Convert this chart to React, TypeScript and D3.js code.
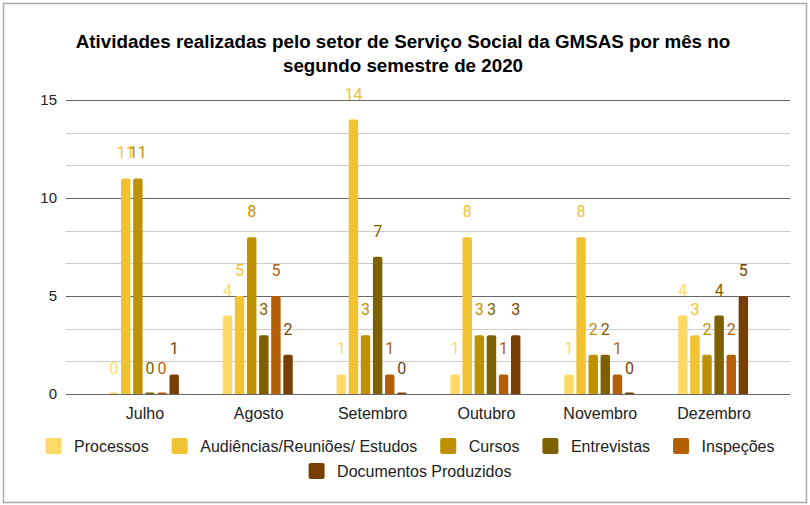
import { useEffect, useRef } from 'react'
import * as d3 from 'd3'

const WIDTH = 810
const HEIGHT = 505

const MONTHS = ['Julho', 'Agosto', 'Setembro', 'Outubro', 'Novembro', 'Dezembro']
const SERIES = [
  'Processos',
  'Audiências/Reuniões/ Estudos',
  'Cursos',
  'Entrevistas',
  'Inspeções',
  'Documentos Produzidos',
]
const COLORS = ['#ffd966', '#f1c232', '#bf9000', '#7f6000', '#b45f06', '#783f04']

const PROCESSOS = [0, 4, 1, 1, 1, 4]
const AUDIENCIAS = [11, 5, 14, 8, 8, 3]
const CURSOS = [11, 8, 3, 3, 2, 2]
const ENTREVISTAS = [0, 3, 7, 3, 2, 4]
const INSPECOES = [0, 5, 1, 1, 1, 2]
const DOCUMENTOS = [1, 2, 0, 3, 0, 5]

const VALUES = [PROCESSOS, AUDIENCIAS, CURSOS, ENTREVISTAS, INSPECOES, DOCUMENTOS]
const Y_TICKS = [0, 5, 10, 15]

const TITLE = [
  'Atividades realizadas pelo setor de Serviço Social da GMSAS por mês no',
  'segundo semestre de 2020',
]

function topRounded(x: number, y: number, w: number, h: number, r: number) {
  const rr = Math.min(r, h, w / 2)
  return `M${x},${y + h}V${y + rr}Q${x},${y} ${x + rr},${y}H${x + w - rr}Q${x + w},${y} ${x + w},${y + rr}V${y + h}Z`
}

export default function App() {
  const svgRef = useRef<SVGSVGElement>(null)

  useEffect(() => {
    document.body.style.margin = '0'
    if (!svgRef.current) return
    const svg = d3.select(svgRef.current)
    svg.selectAll('*').remove()

    const x0 = d3.scaleBand<string>().domain(MONTHS).range([87, 770]).paddingInner(0.385).paddingOuter(0.1925)
    const x1 = d3.scaleBand<string>().domain(SERIES).range([0, x0.bandwidth()]).paddingInner(0.22)
    const y = d3.scaleLinear().domain([0, 15]).range([394, 100])

    svg.append('rect')
      .attr('width', WIDTH).attr('height', HEIGHT).attr('fill', '#fff')
    svg.append('rect')
      .attr('x', 3.5).attr('y', 3.5).attr('width', 803).attr('height', 499)
      .attr('fill', 'none').attr('stroke', '#aaa').attr('stroke-width', 1.5)

    // title
    svg.append('text')
      .attr('text-anchor', 'middle')
      .attr('font-family', 'Liberation Sans, Arial, sans-serif')
      .attr('font-weight', 'bold').attr('font-size', 18.8).attr('fill', '#000')
      .selectAll('tspan').data(TITLE).enter().append('tspan')
      .attr('x', 403).attr('y', (_, i) => 48 + i * 24)
      .text(d => d)

    // gridlines
    const minor = d3.range(0, 15.01, 5 / 3).filter(v => Math.abs(v % 5) > 0.01 && Math.abs((v % 5) - 5) > 0.01)
    svg.append('g').selectAll('line').data(minor).enter().append('line')
      .attr('x1', 66).attr('x2', 790)
      .attr('y1', d => Math.round(y(d)) + 0.5).attr('y2', d => Math.round(y(d)) + 0.5)
      .attr('stroke', '#ccc').attr('stroke-width', 1)
    svg.append('g').selectAll('line').data(Y_TICKS).enter().append('line')
      .attr('x1', 66).attr('x2', 790)
      .attr('y1', d => Math.round(y(d)) + 0.5).attr('y2', d => Math.round(y(d)) + 0.5)
      .attr('stroke', '#666').attr('stroke-width', 1)

    // y labels
    svg.append('g').selectAll('text').data(Y_TICKS).enter().append('text')
      .attr('x', 57).attr('y', d => y(d)).attr('dy', '0.35em')
      .attr('text-anchor', 'end')
      .attr('font-family', 'Liberation Sans, Arial, sans-serif')
      .attr('font-size', 15).attr('fill', '#222')
      .text(d => d)

    // x labels
    svg.append('g').selectAll('text').data(MONTHS).enter().append('text')
      .attr('x', d => (x0(d) ?? 0) + x0.bandwidth() / 2 + 1).attr('y', 419)
      .attr('text-anchor', 'middle')
      .attr('font-family', 'Liberation Sans, Arial, sans-serif')
      .attr('font-size', 16).attr('fill', '#222')
      .text(d => d)

    // bars
    const rows = MONTHS.flatMap((m, mi) => SERIES.map((s, si) => ({ m, s, si, v: VALUES[si][mi] })))
    const bars = svg.append('g')
    bars.selectAll('path').data(rows).enter().append('path')
      .attr('d', d => {
        const bx = (x0(d.m) ?? 0) + (x1(d.s) ?? 0)
        const top = d.v > 0 ? y(d.v) : y(0) - 1.5
        return topRounded(bx, top, x1.bandwidth(), y(0) - top, 2)
      })
      .attr('fill', d => COLORS[d.si])

    bars.selectAll('text').data(rows).enter().append('text')
      .attr('x', d => (x0(d.m) ?? 0) + (x1(d.s) ?? 0) + x1.bandwidth() / 2)
      .attr('y', d => y(d.v) - 20)
      .attr('text-anchor', 'middle')
      .attr('font-family', 'Roboto, sans-serif')
      .attr('font-size', 16).attr('fill', d => COLORS[d.si])
      .text(d => d.v)

    // legend
    const legend = svg.append('g')
      .attr('font-family', 'Liberation Sans, Arial, sans-serif')
      .attr('font-size', 16).attr('fill', '#222')
    const rowsDef = [[0, 1, 2, 3, 4], [5]]
    const rowY = [446, 471]
    const centerX = 410
    rowsDef.forEach((items, ri) => {
      const g = legend.append('g')
      let cx = 0
      items.forEach((si, k) => {
        if (k > 0) cx += 23
        g.append('rect')
          .attr('x', cx).attr('y', rowY[ri] - 8).attr('width', 16).attr('height', 16)
          .attr('rx', 2).attr('fill', COLORS[si])
        cx += 16 + 12.5
        const t = g.append('text')
          .attr('x', cx).attr('y', rowY[ri]).attr('dy', '0.35em')
          .text(SERIES[si])
        cx += (t.node() as SVGTextElement).getComputedTextLength()
      })
      g.attr('transform', `translate(${centerX - cx / 2},0)`)
    })
  }, [])

  return (
    <svg ref={svgRef} width={WIDTH} height={HEIGHT} style={{ display: 'block' }} />
  )
}
